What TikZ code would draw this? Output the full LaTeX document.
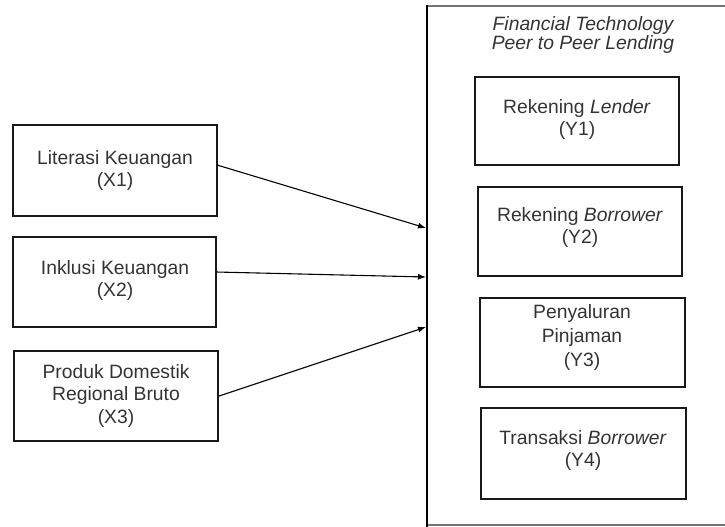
\documentclass[tikz,border=0pt]{standalone}
\usepackage{fontspec}
\setmainfont{Liberation Sans}
\usetikzlibrary{arrows.meta}
\begin{document}
\begin{tikzpicture}[x=1pt,y=-1pt,
  boxline/.style={line width=2.6pt,black!90},
  lbl/.style={font=\fontsize{19.3}{22}\selectfont,align=center,text=black!80,inner sep=0pt},
  conn/.style={line width=1.1pt,-{Latex[length=8pt,width=6pt]}}]
\useasboundingbox (0,0) rectangle (725,527);
% outer box
\draw[draw=black!55,line width=1.8pt] (727,6) -- (427,6) (427,525) -- (727,525);
\draw[line width=2.6pt] (427,5) -- (427,528);
\node[lbl,font={\fontsize{19.3}{18.5}\selectfont\itshape\lineskiplimit=-20pt}] (title) at (583,35) {Financial Technology\\Peer to Peer Lending};
% left boxes
\draw[boxline] (13,125) rectangle (217,216);
\node[lbl] (X1) at (115,171) {Literasi Keuangan\\(X1)};
\draw[boxline] (13,237) rectangle (216,327);
\node[lbl] (X2) at (115,281) {Inklusi Keuangan\\(X2)};
\draw[boxline] (14,351) rectangle (218,441);
\node[lbl] (X3) at (116,396) {Produk Domestik\\Regional Bruto\\(X3)};
% right boxes
\draw[boxline] (475,77) rectangle (679,165);
\node[lbl] (Y1) at (577,120) {Rekening \textit{Lender}\\(Y1)};
\draw[boxline] (478,187) rectangle (682,276);
\node[lbl] (Y2) at (580,228) {Rekening \textit{Borrower}\\(Y2)};
\draw[boxline] (480,298) rectangle (685,387);
\node[lbl,font=\fontsize{19.3}{24}\selectfont] (Y3) at (582,338) {Penyaluran\\Pinjaman\\(Y3)};
\draw[boxline] (481,408) rectangle (686,499);
\node[lbl] (Y4) at (583,450) {Transaksi \textit{Borrower}\\(Y4)};
% connectors
\coordinate (s1) at (217,165);
\coordinate (s2) at (216,272);
\coordinate (s3) at (219,396);
\coordinate (e1) at (426,228);
\coordinate (e2) at (426,277);
\coordinate (e3) at (426,327);
\draw[conn] (s1) -- (e1);
\draw[conn] (s2) -- (e2);
\draw[conn] (s3) -- (e3);
\end{tikzpicture}
\end{document}
